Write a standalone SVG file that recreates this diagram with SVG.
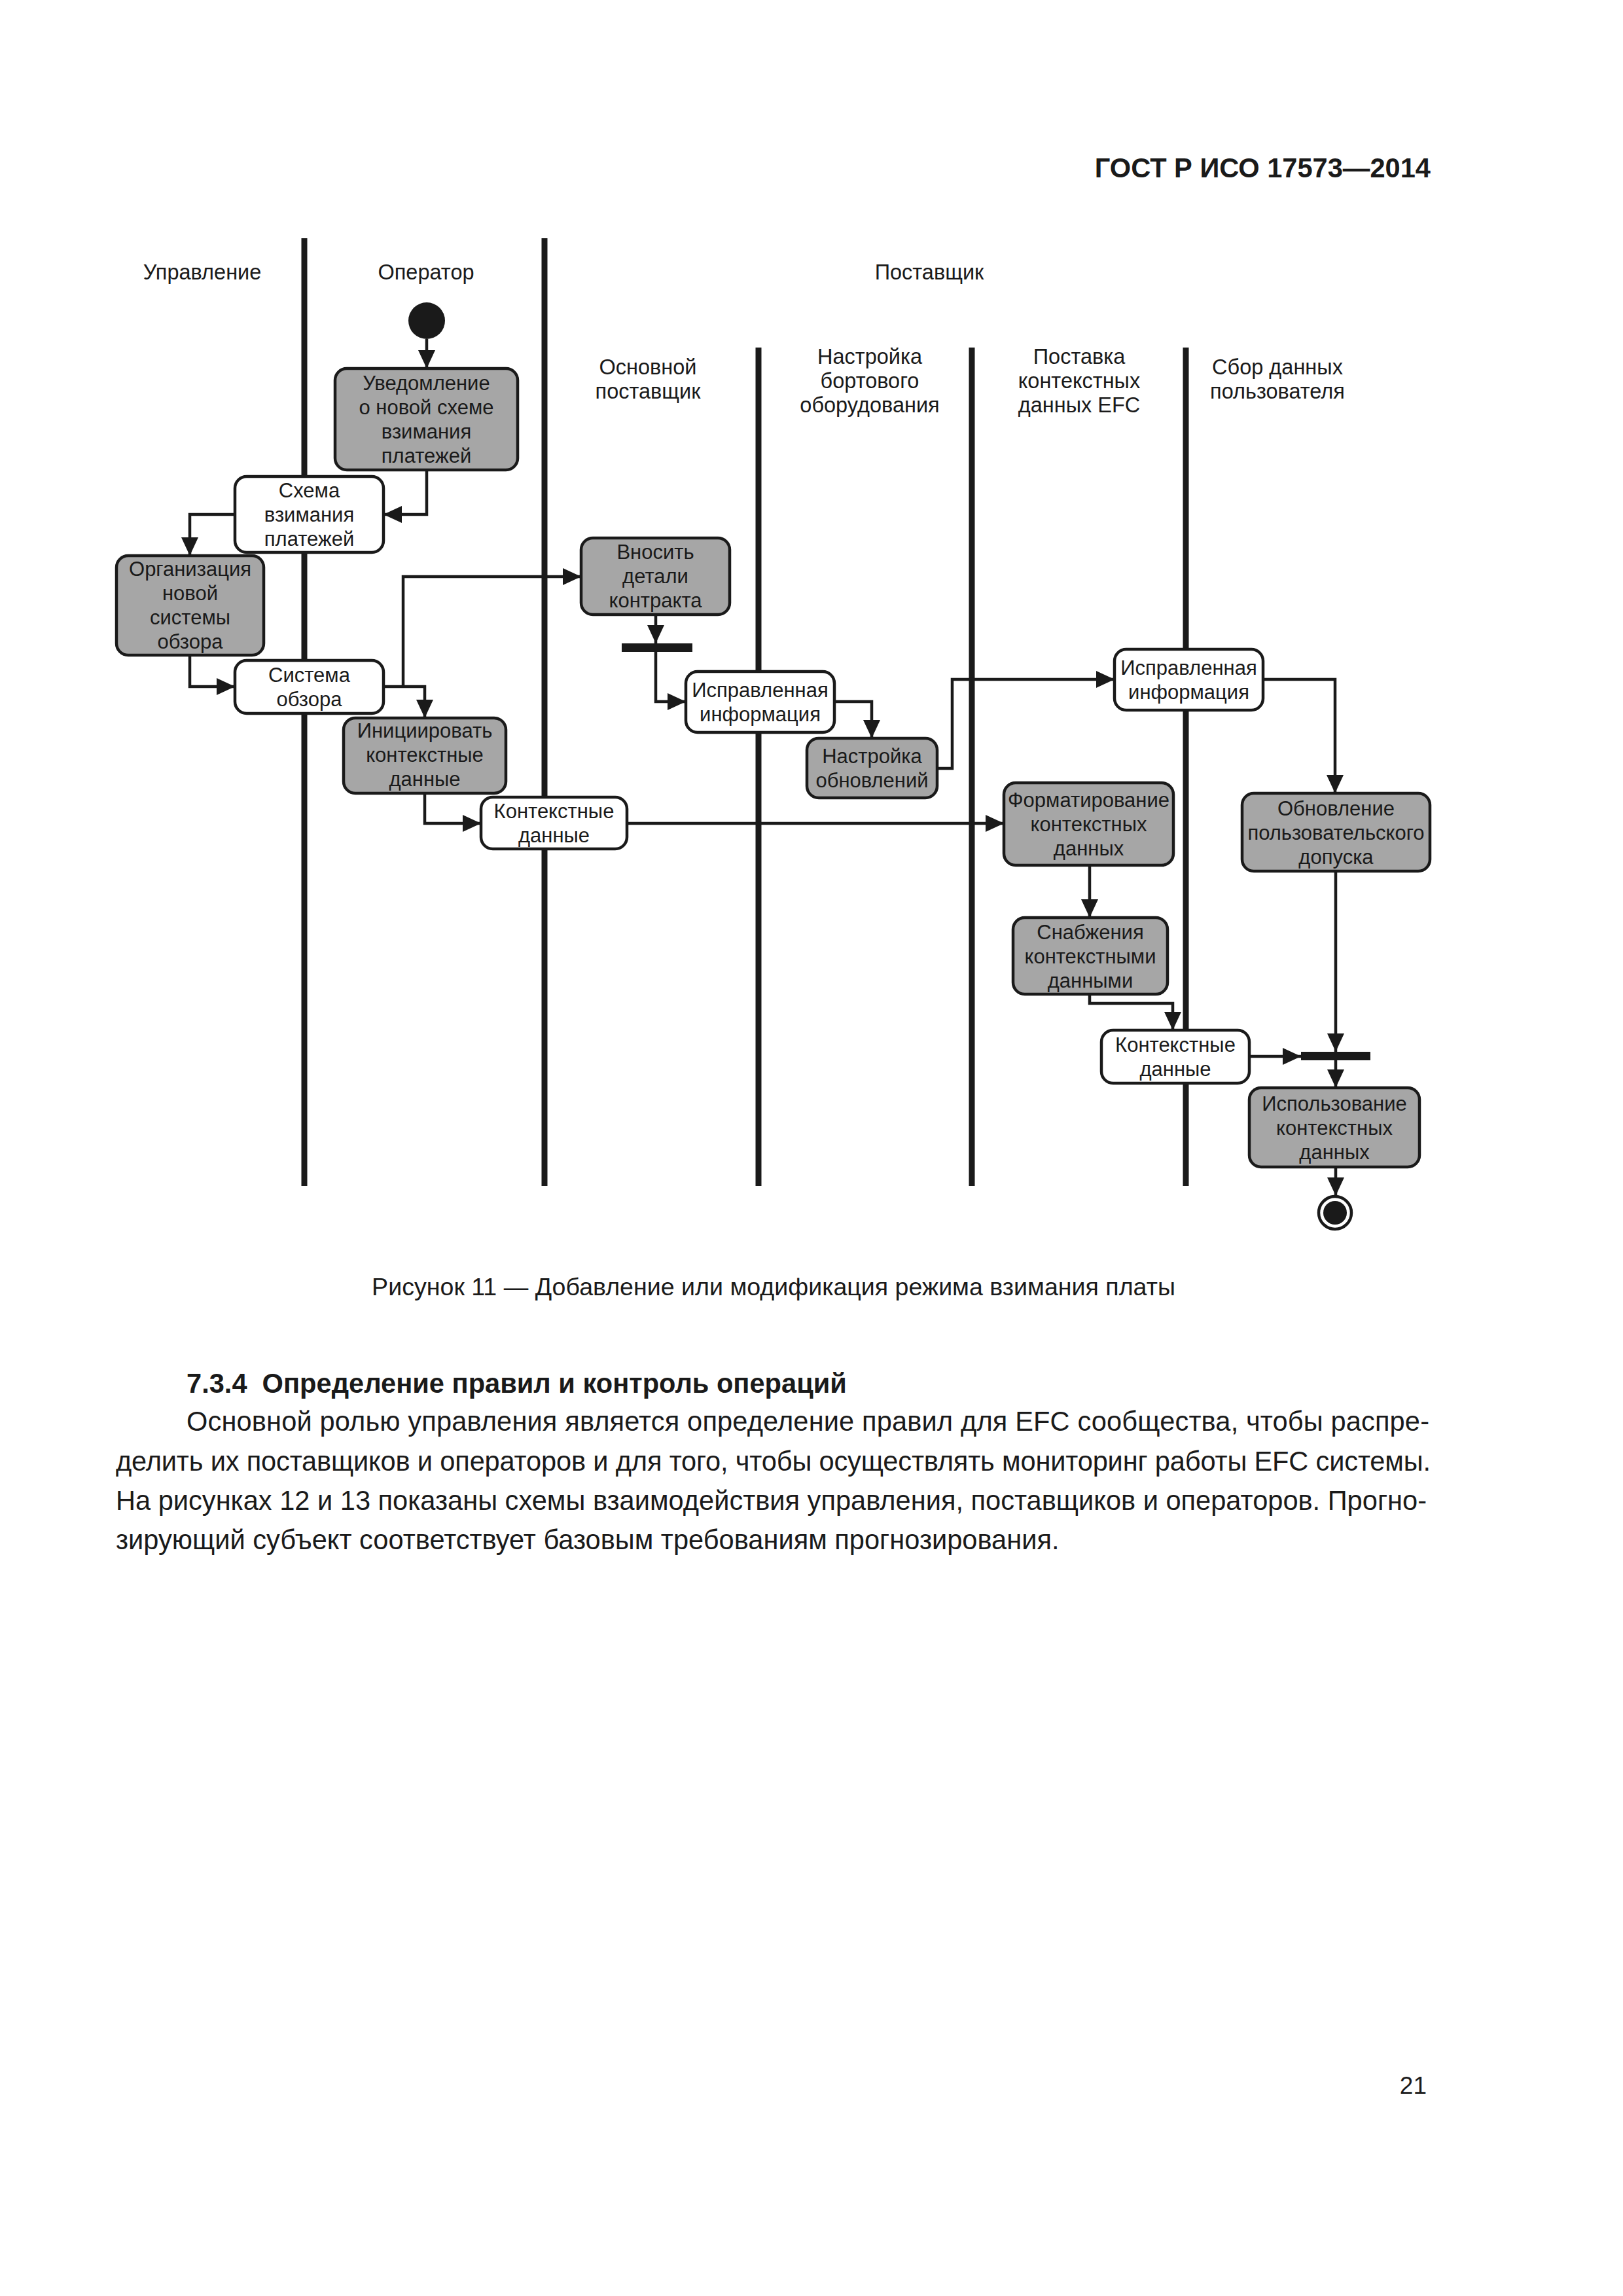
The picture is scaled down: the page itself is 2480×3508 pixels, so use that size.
<svg xmlns="http://www.w3.org/2000/svg" width="2480" height="3508" viewBox="0 0 2480 3508">
<style>
text{font-family:"Liberation Sans",Arial,sans-serif;fill:#1a1a1a}
.t{font-size:31px;text-anchor:middle}
.h{font-size:32.5px;text-anchor:middle}
.lane{stroke:#1a1a1a;stroke-width:9;fill:none}
.g{fill:#a6a6a6;stroke:#1a1a1a;stroke-width:4.5}
.w{fill:#ffffff;stroke:#1a1a1a;stroke-width:4.5}
.c{fill:none;stroke:#1a1a1a;stroke-width:4.5;marker-end:url(#arr)}
.bar{fill:#1a1a1a}
.body{font-size:41.6px}
</style>
<defs>
<marker id="arr" viewBox="0 0 28 26" refX="28" refY="13" markerWidth="28" markerHeight="26" markerUnits="userSpaceOnUse" orient="auto">
<path d="M0,0 L28,13 L0,26 Z" fill="#1a1a1a"/>
</marker>
</defs>
<rect width="2480" height="3508" fill="#ffffff"/>
<text x="2186" y="271" style="font-size:41.6px;font-weight:bold;text-anchor:end">ГОСТ Р ИСО 17573—2014</text>

<g id="lanes">
<line class="lane" x1="465" y1="364" x2="465" y2="1812"/>
<line class="lane" x1="832" y1="364" x2="832" y2="1812"/>
<line class="lane" x1="1159" y1="531" x2="1159" y2="1812"/>
<line class="lane" x1="1485" y1="531" x2="1485" y2="1812"/>
<line class="lane" x1="1812" y1="531" x2="1812" y2="1812"/>
</g>
<g id="lane-headers">
<text class="h" x="309" y="427">Управление</text>
<text class="h" x="651" y="427">Оператор</text>
<text class="h" x="1420" y="427">Поставщик</text>
<text class="h" x="990" y="572">Основной</text>
<text class="h" x="990" y="609">поставщик</text>
<text class="h" x="1329" y="556">Настройка</text>
<text class="h" x="1329" y="593">бортового</text>
<text class="h" x="1329" y="630">оборудования</text>
<text class="h" x="1649" y="556">Поставка</text>
<text class="h" x="1649" y="593">контекстных</text>
<text class="h" x="1649" y="630">данных EFC</text>
<text class="h" x="1952" y="572">Сбор данных</text>
<text class="h" x="1952" y="609">пользователя</text>
</g>

<g id="connectors">
<path class="c" d="M652,518 V563"/>
<path class="c" d="M652,718 V786 H586"/>
<path class="c" d="M359,786 H290 V849"/>
<path class="c" d="M290,1001 V1049 H359"/>
<path class="c" d="M586,1049 H649 V1097"/>
<path class="c" d="M616,1049 V881 H888"/>
<path class="c" d="M649,1212 V1258 H735"/>
<path class="c" d="M958,1258 H1534"/>
<path class="c" d="M1002,939 V983"/>
<path class="c" d="M1002,996 V1072 H1048"/>
<path class="c" d="M1275,1072 H1332 V1128"/>
<path class="c" d="M1432,1174 H1455 V1038 H1703"/>
<path class="c" d="M1930,1038 H2040 V1212"/>
<path class="c" d="M1665,1322 V1402"/>
<path class="c" d="M1665,1519 V1533 H1792 V1574"/>
<path class="c" d="M1909,1614 H1988"/>
<path class="c" d="M2041,1331 V1607"/>
<path class="c" d="M2041,1620 V1662"/>
<path class="c" d="M2041,1783 V1827"/>
</g>

<g id="start"><circle cx="652" cy="490" r="28" fill="#1a1a1a"/></g>
<g id="end"><circle cx="2040" cy="1853" r="25" fill="#ffffff" stroke="#1a1a1a" stroke-width="4.5"/><circle cx="2040" cy="1853" r="18" fill="#1a1a1a"/></g>
<g id="fork1"><rect class="bar" x="950" y="983" width="108" height="13"/></g>
<g id="fork2"><rect class="bar" x="1988" y="1607" width="106" height="13"/></g>

<g id="n1"><rect class="g" x="512" y="563" width="279" height="155" rx="18"/>
<text class="t" x="651.5" y="596">Уведомление</text><text class="t" x="651.5" y="633">о новой схеме</text><text class="t" x="651.5" y="670">взимания</text><text class="t" x="651.5" y="707">платежей</text></g>
<g id="n2"><rect class="w" x="359" y="728" width="227" height="116" rx="18"/>
<text class="t" x="472.5" y="760">Схема</text><text class="t" x="472.5" y="797">взимания</text><text class="t" x="472.5" y="834">платежей</text></g>
<g id="n3"><rect class="g" x="178" y="849" width="225" height="152" rx="18"/>
<text class="t" x="290.5" y="880">Организация</text><text class="t" x="290.5" y="917">новой</text><text class="t" x="290.5" y="954">системы</text><text class="t" x="290.5" y="991">обзора</text></g>
<g id="n4"><rect class="w" x="359" y="1009" width="227" height="81" rx="18"/>
<text class="t" x="472.5" y="1042">Система</text><text class="t" x="472.5" y="1079">обзора</text></g>
<g id="n5"><rect class="g" x="525" y="1097" width="248" height="115" rx="18"/>
<text class="t" x="649" y="1127">Инициировать</text><text class="t" x="649" y="1164">контекстные</text><text class="t" x="649" y="1201">данные</text></g>
<g id="n6"><rect class="w" x="735" y="1218" width="223" height="79" rx="18"/>
<text class="t" x="846.5" y="1250">Контекстные</text><text class="t" x="846.5" y="1287">данные</text></g>
<g id="n7"><rect class="g" x="888" y="822" width="227" height="117" rx="18"/>
<text class="t" x="1001.5" y="854">Вносить</text><text class="t" x="1001.5" y="891">детали</text><text class="t" x="1001.5" y="928">контракта</text></g>
<g id="n8"><rect class="w" x="1048" y="1026" width="227" height="93" rx="18"/>
<text class="t" x="1161.5" y="1065">Исправленная</text><text class="t" x="1161.5" y="1102">информация</text></g>
<g id="n9"><rect class="g" x="1233" y="1128" width="199" height="91" rx="18"/>
<text class="t" x="1332.5" y="1166">Настройка</text><text class="t" x="1332.5" y="1203">обновлений</text></g>
<g id="n10"><rect class="w" x="1703" y="992" width="227" height="93" rx="18"/>
<text class="t" x="1816.5" y="1031">Исправленная</text><text class="t" x="1816.5" y="1068">информация</text></g>
<g id="n11"><rect class="g" x="1534" y="1196" width="259" height="126" rx="18"/>
<text class="t" x="1663.5" y="1233">Форматирование</text><text class="t" x="1663.5" y="1270">контекстных</text><text class="t" x="1663.5" y="1307">данных</text></g>
<g id="n12"><rect class="g" x="1898" y="1212" width="287" height="119" rx="18"/>
<text class="t" x="2041.5" y="1246">Обновление</text><text class="t" x="2041.5" y="1283">пользовательского</text><text class="t" x="2041.5" y="1320">допуска</text></g>
<g id="n13"><rect class="g" x="1548" y="1402" width="236" height="117" rx="18"/>
<text class="t" x="1666" y="1435">Снабжения</text><text class="t" x="1666" y="1472">контекстными</text><text class="t" x="1666" y="1509">данными</text></g>
<g id="n14"><rect class="w" x="1683" y="1574" width="226" height="81" rx="18"/>
<text class="t" x="1796" y="1607">Контекстные</text><text class="t" x="1796" y="1644">данные</text></g>
<g id="n15"><rect class="g" x="1909" y="1662" width="260" height="121" rx="18"/>
<text class="t" x="2039" y="1697">Использование</text><text class="t" x="2039" y="1734">контекстных</text><text class="t" x="2039" y="1771">данных</text></g>

<text x="1182" y="1979" style="font-size:37.6px;text-anchor:middle">Рисунок 11 — Добавление или модификация режима взимания платы</text>

<text x="285" y="2128" xml:space="preserve" style="font-size:41.6px;font-weight:bold">7.3.4  Определение правил и контроль операций</text>
<text class="body" x="285" y="2186" textLength="1899" lengthAdjust="spacing">Основной ролью управления является определение правил для EFC сообщества, чтобы распре-</text>
<text class="body" x="177" y="2247" textLength="2009" lengthAdjust="spacing">делить их поставщиков и операторов и для того, чтобы осуществлять мониторинг работы EFC системы.</text>
<text class="body" x="177" y="2307" textLength="2003" lengthAdjust="spacing">На рисунках 12 и 13 показаны схемы взаимодействия управления, поставщиков и операторов. Прогно-</text>
<text class="body" x="177" y="2367">зирующий субъект соответствует базовым требованиям прогнозирования.</text>

<text x="2180" y="3199" style="font-size:37px;text-anchor:end">21</text>
</svg>
